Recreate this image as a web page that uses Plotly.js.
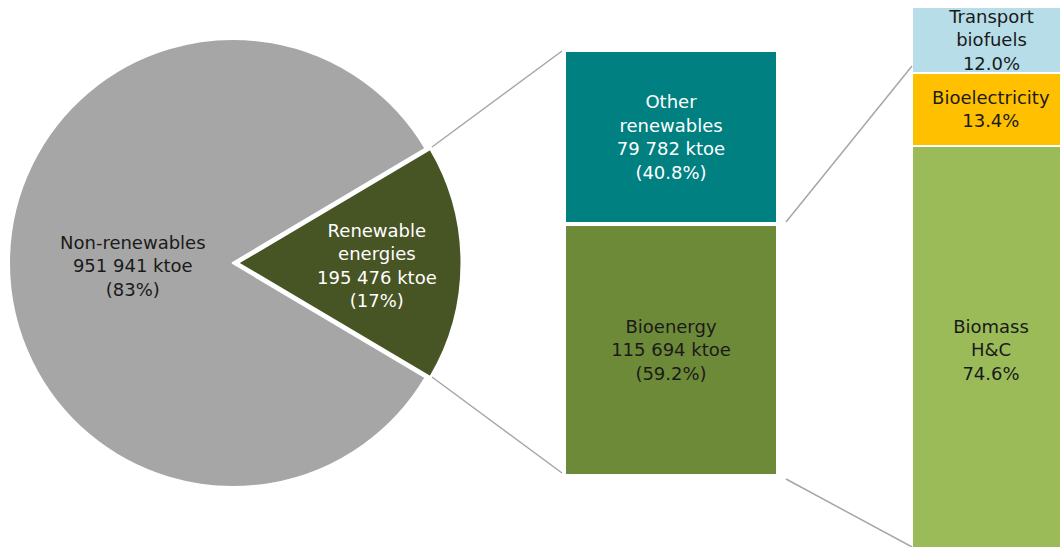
<!DOCTYPE html>
<html>
<head>
<meta charset="utf-8">
<script src="https://cdn.plot.ly/plotly-3.0.1.min.js"></script>
<style>html,body{margin:0;padding:0;background:#fff;}#chart{width:1060px;height:547px;}</style>
</head>
<body>
<div id="chart"></div>
<script>
// ---------- DATA ----------
const pieLabels = ['Renewable<br>energies', 'Non-renewables'];
const pieValues = [195476, 951941];            // ktoe

const renLabels = ['Bioenergy', 'Other<br>renewables'];   // bottom -> top
const renValues = [115694, 79782];             // ktoe

const bioLabels = ['Biomass<br>H&C', 'Bioelectricity', 'Transport<br>biofuels']; // bottom -> top
const bioShares = [74.6, 13.4, 12.0];          // % of bioenergy

// ---------- STYLE ----------
const FONT = 'DejaVu Sans, Verdana, sans-serif';
const FS = 18;
const pieColors = ['#475424', '#a6a6a6'];
const pieTextColors = ['#ffffff', '#1a1a1a'];
const renColors = ['#6d8a38', '#008080'];
const renTextColors = ['#1a1a1a', '#ffffff'];
const bioColors = ['#9bbb59', '#ffc000', '#b7dde8'];
const bioTextColors = ['#1a1a1a', '#1a1a1a', '#1a1a1a'];
const W = 1060, H = 547;
const px = x => x / W;
const py = y => 1 - y / H;

function fmt(n) { return String(n).replace(/\B(?=(\d{3})+(?!\d))/g, ' '); }

const pieTotal = pieValues.reduce((a, b) => a + b, 0);
const renTotal = renValues.reduce((a, b) => a + b, 0);

// pie geometry (pixels)
const cx = 233, cy = 263, pull = 0.02, rad = 224.25;
const half = rad * (1 + pull);

const traces = [];
traces.push({
  type: 'pie',
  labels: pieLabels,
  values: pieValues,
  sort: false,
  direction: 'clockwise',
  rotation: 90 - 180 * pieValues[0] / pieTotal,
  pull: [pull, 0],
  marker: { colors: pieColors, line: { color: '#ffffff', width: 2.5 } },
  textinfo: 'none',
  hoverinfo: 'none',
  showlegend: false,
  domain: { x: [px(cx - half), px(cx + half)], y: [py(cy + half), py(cy - half)] }
});

renValues.forEach((v, i) => {
  traces.push({
    type: 'bar', x: [0], y: [v], width: [1], xaxis: 'x', yaxis: 'y',
    marker: { color: renColors[i], line: { color: '#ffffff', width: 4 } },
    text: [renLabels[i] + '<br>' + fmt(v) + ' ktoe<br>(' + (100 * v / renTotal).toFixed(1) + '%)'],
    textposition: 'inside', insidetextanchor: 'middle', textangle: 0, constraintext: 'none',
    textfont: { family: FONT, size: FS, color: renTextColors[i] },
    hoverinfo: 'none', showlegend: false
  });
});

bioShares.forEach((v, i) => {
  traces.push({
    type: 'bar', x: [0], y: [v], width: [1], xaxis: 'x2', yaxis: 'y2',
    marker: { color: bioColors[i], line: { color: '#ffffff', width: 2 } },
    text: [bioLabels[i] + '<br>' + v.toFixed(1) + '%'],
    textposition: 'inside', insidetextanchor: 'middle', textangle: 0, constraintext: 'none',
    textfont: { family: FONT, size: FS, color: bioTextColors[i] },
    hoverinfo: 'none', showlegend: false
  });
});

// bar 2 layout geometry
const b2Left = 912, b2Width = 158, b2Top = 7, b2Bottom = 554;
const unitPx = (b2Bottom - b2Top) / 100;

const hidden = { visible: false, showgrid: false, zeroline: false, fixedrange: true };

const lineStyle = { color: '#a6a6a6', width: 1.5 };
const seg = (x0, y0, x1, y1) => ({ type: 'line', xref: 'paper', yref: 'paper',
  x0: px(x0), y0: py(y0), x1: px(x1), y1: py(y1), line: lineStyle });

const layout = {
  width: W, height: H,
  margin: { l: 0, r: 0, t: 0, b: 0, pad: 0 },
  paper_bgcolor: '#ffffff', plot_bgcolor: 'rgba(0,0,0,0)',
  showlegend: false,
  barmode: 'stack',
  font: { family: FONT, size: FS },
  xaxis: Object.assign({}, hidden, { domain: [px(564), px(778)], range: [-0.5, 0.5], anchor: 'y' }),
  yaxis: Object.assign({}, hidden, { domain: [py(476), py(50)], range: [0, renTotal], anchor: 'x' }),
  xaxis2: Object.assign({}, hidden, { domain: [px(b2Left), 1], range: [-0.5, -0.5 + (W - b2Left) / b2Width], anchor: 'y2' }),
  yaxis2: Object.assign({}, hidden, { domain: [0, 1], range: [(b2Bottom - H) / unitPx, 100 + b2Top / unitPx], anchor: 'x2' }),
  shapes: [
    seg(432, 147, 562, 51),
    seg(432, 377, 562, 473),
    seg(786, 222, 912, 66),
    seg(786, 479, 912, 547)
  ],
  annotations: [
    { xref: 'paper', yref: 'paper', x: px(133), y: py(266), showarrow: false,
      xanchor: 'center', yanchor: 'middle', align: 'center',
      text: pieLabels[1] + '<br>' + fmt(pieValues[1]) + ' ktoe<br>(' + Math.round(100 * pieValues[1] / pieTotal) + '%)',
      font: { family: FONT, size: FS, color: pieTextColors[1] } },
    { xref: 'paper', yref: 'paper', x: px(377), y: py(265), showarrow: false,
      xanchor: 'center', yanchor: 'middle', align: 'center',
      text: pieLabels[0] + '<br>' + fmt(pieValues[0]) + ' ktoe<br>(' + Math.round(100 * pieValues[0] / pieTotal) + '%)',
      font: { family: FONT, size: FS, color: pieTextColors[0] } }
  ]
};

Plotly.newPlot('chart', traces, layout, { staticPlot: true, displayModeBar: false });
</script>
</body>
</html>
